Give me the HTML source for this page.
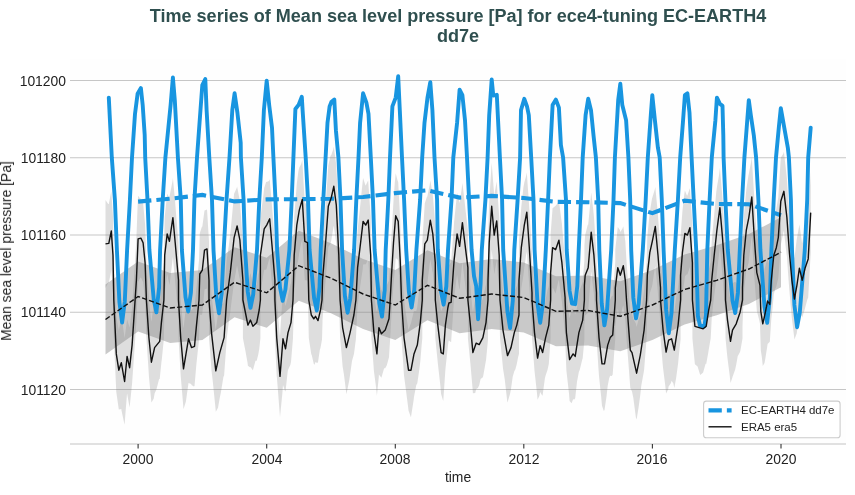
<!DOCTYPE html>
<html><head><meta charset="utf-8"><title>Time series</title>
<style>
html,body{margin:0;padding:0;background:#fff;}
body{width:855px;height:495px;position:relative;overflow:hidden;font-family:"Liberation Sans",sans-serif;color:#222;}
.t{position:absolute;white-space:nowrap;line-height:1;will-change:transform;}
.title{left:0;width:916px;text-align:center;font-weight:bold;font-size:18.06px;color:#2f4f4f;line-height:19.8px;top:6.8px;white-space:normal}
.yl{font-size:13.89px;text-align:right;width:60px;left:5.5px;}
.xl{font-size:13.89px;text-align:center;width:60px;}
.lg{font-size:11.47px;left:741.4px;}
</style></head><body>
<svg width="855" height="495" viewBox="0 0 855 495" style="position:absolute;left:0;top:0">
<rect x="70" y="59" width="776" height="385" fill="#fefefe"/>
<line x1="70" x2="846" y1="80.5" y2="80.5" stroke="#c6c6c6" stroke-width="1.05"/>
<line x1="70" x2="846" y1="157.8" y2="157.8" stroke="#c6c6c6" stroke-width="1.05"/>
<line x1="70" x2="846" y1="235" y2="235" stroke="#c6c6c6" stroke-width="1.05"/>
<line x1="70" x2="846" y1="312.2" y2="312.2" stroke="#c6c6c6" stroke-width="1.05"/>
<line x1="70" x2="846" y1="389.4" y2="389.4" stroke="#c6c6c6" stroke-width="1.05"/>
<path d="M105.5,199.9 L105.5,200.0 L108.2,204.0 L108.8,203.9 L110.9,193.5 L111.3,191.6 L113.0,216.9 L113.5,246.5 L113.8,262.0 L116.2,314.0 L116.3,315.8 L118.8,330.7 L118.9,330.4 L121.3,316.4 L121.6,317.1 L124.3,335.6 L124.6,338.3 L126.9,320.9 L127.1,319.2 L129.6,327.7 L129.6,327.4 L132.1,307.0 L132.3,304.2 L135.0,262.0 L135.1,259.8 L136.4,238.2 L137.6,205.7 L138.1,195.7 L140.3,198.8 L140.9,198.6 L143.0,202.9 L143.1,203.2 L145.1,224.4 L145.7,241.4 L146.4,262.0 L148.4,291.8 L148.9,299.3 L151.0,319.2 L151.4,321.7 L153.7,304.8 L154.6,301.7 L156.4,301.4 L159.1,305.1 L159.7,303.7 L161.4,282.9 L161.8,279.5 L163.9,261.6 L164.4,231.3 L164.7,217.0 L167.1,194.4 L167.2,193.8 L169.4,197.9 L169.8,195.0 L172.5,181.3 L172.9,178.1 L175.2,202.6 L175.2,203.2 L177.8,235.0 L178.5,242.3 L178.5,262.0 L180.5,296.2 L180.7,299.5 L183.2,326.2 L183.5,328.6 L185.9,307.5 L188.5,294.8 L188.5,295.0 L191.2,309.9 L191.5,310.3 L193.9,306.6 L194.5,306.8 L196.5,287.0 L196.6,286.2 L199.0,260.2 L199.3,251.2 L199.8,233.2 L201.9,226.7 L202.3,226.8 L204.5,210.5 L204.6,210.6 L207.0,209.4 L207.3,213.7 L209.0,241.7 L209.0,261.5 L210.0,274.3 L211.5,294.6 L212.7,304.6 L215.3,327.3 L215.8,330.1 L218.0,313.8 L219.8,307.6 L220.7,305.5 L223.4,303.1 L224.1,299.8 L226.1,267.9 L226.6,260.4 L228.7,246.4 L230.3,233.5 L231.4,222.7 L234.1,193.7 L234.1,193.7 L236.8,187.7 L237.1,186.4 L239.4,198.5 L239.9,200.9 L242.1,232.4 L242.9,242.3 L242.9,262.0 L244.8,271.7 L245.4,274.2 L247.5,283.6 L247.9,284.5 L250.2,273.5 L250.4,273.3 L252.8,282.2 L252.9,282.4 L255.5,286.7 L256.7,284.3 L258.2,274.8 L259.2,270.7 L260.4,261.7 L260.4,216.8 L260.9,213.9 L263.6,193.2 L264.2,188.0 L266.2,181.8 L266.7,181.9 L268.9,180.9 L269.7,179.3 L271.6,201.3 L272.2,208.5 L274.3,234.3 L274.9,242.3 L274.9,262.0 L276.7,299.6 L277.0,302.6 L279.6,333.0 L280.0,336.0 L282.3,300.0 L283.0,292.6 L285.0,302.9 L285.5,306.1 L287.7,297.6 L288.0,295.2 L290.4,284.7 L291.0,283.0 L293.0,262.0 L293.0,260.8 L294.2,216.3 L295.7,197.7 L296.8,183.6 L298.4,171.3 L299.3,167.5 L301.1,164.3 L302.3,160.0 L303.7,184.7 L304.8,202.5 L306.4,204.2 L307.5,204.7 L308.8,262.0 L309.1,264.1 L311.3,275.8 L311.8,276.3 L313.8,273.7 L314.5,270.8 L315.5,270.5 L317.1,275.0 L318.0,278.9 L319.8,276.0 L320.5,272.2 L322.0,260.5 L322.5,242.0 L322.5,240.3 L325.2,209.3 L325.6,204.4 L327.9,172.3 L328.3,165.6 L330.5,155.8 L331.3,154.9 L333.2,149.5 L333.8,146.8 L335.9,162.3 L336.3,165.8 L338.6,212.0 L338.8,217.2 L340.1,262.0 L341.3,274.8 L342.6,288.8 L343.9,295.2 L346.4,301.3 L346.6,299.6 L349.3,291.9 L350.1,290.7 L352.0,286.9 L353.9,275.9 L354.6,269.2 L355.9,260.9 L357.3,235.3 L357.6,229.5 L360.0,207.9 L360.6,201.7 L362.7,181.3 L363.1,178.1 L365.4,185.2 L365.7,185.6 L368.0,180.8 L368.2,180.7 L370.7,217.2 L370.7,220.6 L371.4,262.0 L373.4,287.8 L373.9,294.3 L376.1,308.4 L376.9,312.0 L378.8,282.9 L378.9,280.8 L381.4,289.8 L381.4,289.8 L384.1,294.2 L385.2,291.9 L386.8,285.3 L389.0,280.4 L389.5,273.1 L390.2,261.4 L391.5,235.8 L392.2,224.1 L393.5,200.7 L394.8,182.5 L395.7,173.3 L397.5,180.3 L398.2,181.9 L400.2,219.8 L400.2,220.7 L401.5,261.2 L402.9,282.7 L404.0,299.6 L405.5,310.8 L408.2,328.6 L408.5,329.9 L410.9,323.2 L411.0,323.3 L413.6,312.3 L414.0,311.0 L416.3,310.9 L417.3,307.0 L418.9,292.6 L420.3,283.6 L421.6,269.6 L422.3,261.5 L422.3,241.7 L424.3,211.1 L424.8,203.2 L427.0,196.6 L427.3,196.7 L429.7,185.0 L430.3,180.6 L432.3,191.7 L432.8,194.7 L435.0,221.2 L435.3,224.7 L435.3,262.0 L437.7,285.7 L437.8,287.0 L440.4,307.1 L441.1,311.1 L443.1,306.7 L443.3,307.2 L445.4,280.6 L445.7,278.4 L447.9,269.1 L448.4,268.0 L448.9,265.5 L451.1,262.3 L451.1,262.3 L453.8,227.1 L454.1,221.9 L456.4,199.8 L457.1,192.9 L459.1,199.9 L459.6,203.3 L461.8,188.2 L462.4,183.1 L464.5,200.5 L465.4,208.7 L467.2,223.8 L467.9,229.7 L467.9,262.0 L469.8,281.4 L470.4,286.7 L472.5,308.8 L472.9,312.0 L475.2,299.0 L476.2,297.2 L477.9,300.0 L479.2,304.0 L480.6,305.0 L482.9,297.9 L483.2,296.1 L485.9,284.7 L486.0,284.5 L488.0,260.5 L488.0,240.7 L488.6,221.1 L489.2,201.7 L491.3,168.7 L491.7,163.1 L494.0,192.6 L494.2,195.6 L496.6,181.9 L496.7,181.4 L499.2,217.1 L499.3,221.8 L500.0,262.0 L502.0,282.0 L503.0,291.5 L504.7,300.1 L507.3,307.8 L507.5,308.8 L510.0,305.9 L511.0,306.2 L512.7,302.8 L514.3,293.8 L515.4,289.2 L516.8,286.1 L518.1,281.3 L519.0,276.3 L519.0,241.5 L520.7,215.3 L521.3,206.9 L523.4,187.5 L524.3,182.5 L526.1,176.1 L526.8,172.6 L528.8,201.0 L529.3,208.5 L531.5,245.3 L532.0,254.8 L532.0,262.0 L534.1,289.3 L534.5,294.4 L536.8,312.4 L537.6,316.6 L539.5,301.4 L540.1,299.2 L542.2,307.5 L542.6,309.7 L544.9,304.2 L545.6,299.8 L547.5,290.1 L548.8,286.0 L550.2,267.4 L550.6,261.7 L550.6,234.5 L552.6,207.9 L552.9,207.9 L555.6,205.7 L555.6,205.7 L558.3,202.4 L558.9,200.7 L560.9,216.2 L561.9,223.7 L563.6,243.5 L565.1,259.8 L565.1,262.0 L566.3,292.2 L566.4,294.5 L569.0,314.6 L569.6,318.3 L571.6,309.3 L573.1,308.6 L574.3,311.4 L575.2,314.5 L577.0,307.7 L578.9,293.4 L579.7,290.0 L582.4,283.1 L582.7,281.8 L584.4,260.5 L584.4,245.7 L585.0,237.0 L585.2,235.0 L587.7,224.9 L588.2,224.5 L590.4,202.0 L591.2,192.6 L593.1,208.4 L593.9,216.2 L595.8,244.3 L596.5,254.8 L596.5,262.0 L598.4,291.7 L599.0,299.3 L601.1,316.9 L602.0,322.0 L603.8,316.9 L604.5,317.7 L606.5,308.4 L607.7,304.4 L609.2,303.9 L610.2,299.4 L611.8,296.0 L612.7,295.8 L614.5,272.4 L615.3,261.4 L615.3,249.2 L617.2,232.3 L617.8,226.9 L619.9,230.1 L620.3,231.9 L622.5,228.5 L623.3,226.2 L625.2,240.4 L625.3,240.8 L626.5,261.2 L627.9,280.3 L630.3,312.1 L630.6,312.5 L632.0,313.8 L633.3,318.7 L635.9,323.4 L636.6,326.9 L638.6,319.3 L640.3,315.6 L641.3,311.6 L644.0,290.7 L644.1,290.1 L646.6,261.9 L646.7,259.2 L647.3,236.8 L649.3,216.6 L649.8,212.0 L652.0,198.6 L652.3,197.8 L654.7,189.8 L655.3,186.9 L657.4,208.7 L658.0,216.1 L660.1,243.3 L660.5,249.8 L660.5,262.0 L662.7,288.2 L663.1,291.9 L665.4,307.8 L666.1,310.8 L668.1,295.4 L668.6,293.6 L670.8,295.2 L671.6,297.0 L673.4,309.5 L674.3,312.1 L676.1,298.2 L678.1,286.5 L678.8,279.9 L680.6,260.7 L680.6,235.9 L681.5,223.8 L682.4,211.4 L684.2,194.7 L684.9,190.6 L686.8,195.3 L687.4,195.6 L689.5,189.2 L689.9,188.3 L692.2,222.2 L692.4,224.7 L692.4,262.0 L694.9,288.3 L694.9,288.3 L697.6,287.6 L699.1,283.6 L700.2,280.9 L702.9,284.7 L703.2,285.4 L705.6,289.8 L706.2,288.7 L708.3,272.6 L708.7,270.3 L710.7,261.8 L711.0,256.5 L711.7,241.7 L713.6,220.7 L714.2,214.4 L716.3,191.8 L716.9,187.2 L719.0,175.2 L719.9,168.1 L721.7,188.7 L722.5,198.6 L724.3,226.5 L725.5,242.3 L725.5,262.0 L727.0,277.7 L727.5,281.8 L729.7,296.4 L730.5,299.7 L732.4,283.6 L732.5,283.2 L735.1,281.8 L736.2,282.9 L737.7,282.3 L740.0,273.0 L740.4,270.4 L742.5,261.6 L742.5,249.3 L743.1,234.2 L743.8,216.7 L745.8,194.9 L746.3,189.4 L748.5,175.1 L748.8,174.1 L751.1,161.9 L751.8,157.5 L753.8,190.6 L754.3,198.4 L756.5,230.6 L756.8,234.7 L759.2,243.9 L760.0,246.8 L760.8,272.4 L761.9,278.4 L762.8,281.7 L764.5,269.0 L765.3,266.4 L767.2,258.8 L767.6,257.9 L769.8,267.3 L769.9,266.4 L771.3,241.6 L772.6,227.8 L773.8,216.1 L775.2,212.9 L776.3,208.9 L777.9,199.7 L778.3,197.0 L780.6,160.8 L780.8,157.7 L783.3,153.7 L783.9,151.8 L786.0,170.2 L786.9,178.6 L788.6,204.5 L789.4,214.7 L791.3,236.2 L791.9,241.9 L794.0,256.7 L794.4,258.5 L796.7,239.4 L796.9,238.5 L799.4,224.5 L799.4,224.3 L802.0,242.8 L802.2,243.1 L804.7,229.6 L805.2,228.0 L807.4,223.2 L808.2,220.4 L810.1,183.6 L810.7,171.7 L810.7,253.5 L810.1,263.6 L808.2,297.5 L807.4,299.2 L805.2,307.4 L804.7,309.6 L802.2,317.4 L802.0,316.8 L799.4,312.1 L799.4,312.5 L796.9,332.0 L796.7,333.4 L794.4,339.6 L794.0,335.7 L791.9,318.6 L791.3,312.2 L789.4,290.7 L788.6,280.5 L786.9,256.6 L786.0,249.2 L783.9,230.8 L783.3,232.7 L780.8,244.9 L780.6,248.8 L778.3,278.3 L777.9,279.7 L776.3,286.5 L775.2,288.9 L773.8,294.2 L772.6,307.8 L771.3,318.9 L769.9,340.4 L769.8,341.7 L767.6,344.1 L767.2,346.8 L765.3,358.7 L764.5,363.0 L762.8,366.0 L761.9,357.4 L760.8,350.2 L760.0,323.8 L759.2,319.9 L756.8,310.7 L756.5,306.6 L754.3,276.9 L753.8,269.6 L751.8,236.5 L751.1,240.9 L748.8,261.1 L748.5,263.1 L746.3,270.8 L745.8,274.9 L743.8,293.7 L743.1,310.2 L742.5,326.2 L742.5,338.4 L740.4,350.4 L740.0,352.1 L737.7,356.3 L736.2,364.7 L735.1,369.8 L732.5,377.0 L732.4,377.6 L730.5,383.0 L729.7,375.4 L727.5,358.3 L727.0,353.7 L725.5,338.0 L725.5,318.3 L724.3,302.5 L722.5,276.7 L721.7,267.7 L719.9,247.1 L719.0,254.2 L716.9,273.1 L716.3,279.8 L714.2,296.0 L713.6,300.7 L711.7,318.8 L711.0,332.5 L710.7,338.2 L708.7,349.7 L708.3,352.6 L706.2,364.0 L705.6,363.8 L703.2,372.2 L702.9,372.7 L700.2,374.9 L699.1,371.5 L697.6,366.6 L694.9,364.3 L694.9,364.3 L692.4,338.0 L692.4,300.7 L692.2,298.2 L689.9,266.9 L689.5,268.2 L687.4,274.6 L686.8,274.3 L684.9,276.2 L684.2,282.7 L682.4,294.0 L681.5,303.8 L680.6,314.6 L680.6,339.3 L678.8,355.9 L678.1,363.6 L676.1,378.2 L674.3,388.1 L673.4,383.5 L671.6,380.7 L670.8,383.2 L668.6,386.6 L668.1,389.4 L666.1,393.5 L665.4,386.8 L663.1,368.3 L662.7,364.2 L660.5,338.0 L660.5,325.8 L660.1,319.3 L658.0,294.3 L657.4,287.7 L655.3,265.9 L654.7,268.8 L652.3,285.0 L652.0,286.6 L649.8,293.3 L649.3,296.6 L647.3,313.7 L646.7,335.2 L646.6,338.1 L644.1,370.0 L644.0,370.7 L641.3,385.6 L640.3,394.7 L638.6,407.3 L636.6,419.5 L635.9,417.4 L633.3,397.7 L632.0,391.4 L630.6,388.5 L630.3,388.1 L627.9,356.3 L626.5,338.8 L625.3,319.7 L625.2,319.4 L623.3,305.2 L622.5,307.5 L620.3,318.6 L619.9,318.1 L617.8,308.6 L617.2,312.3 L615.3,326.3 L615.3,338.6 L614.5,348.4 L612.7,374.4 L611.8,376.0 L610.2,375.8 L609.2,377.9 L607.7,385.8 L606.5,396.4 L604.5,410.1 L603.8,410.9 L602.0,405.8 L601.1,395.9 L599.0,375.9 L598.4,367.7 L596.5,338.0 L596.5,330.8 L595.8,320.3 L593.9,294.2 L593.1,287.4 L591.2,271.6 L590.4,281.0 L588.2,310.9 L587.7,312.9 L585.2,315.4 L585.0,317.0 L584.4,324.8 L584.4,339.5 L582.7,358.3 L582.4,359.1 L579.7,370.0 L578.9,371.7 L577.0,381.7 L575.2,398.2 L574.3,399.4 L573.1,399.2 L571.6,403.3 L569.6,401.0 L569.0,393.6 L566.4,370.6 L566.3,368.2 L565.1,338.0 L565.1,335.8 L563.6,319.5 L561.9,301.7 L560.9,295.2 L558.9,279.7 L558.3,281.4 L555.6,293.6 L555.6,293.7 L552.9,287.9 L552.6,287.4 L550.6,311.0 L550.6,338.3 L550.2,343.4 L548.8,364.1 L547.5,370.1 L545.6,375.4 L544.9,378.2 L542.6,395.6 L542.2,395.5 L540.1,392.0 L539.5,395.4 L537.6,399.7 L536.8,391.4 L534.5,370.8 L534.1,365.3 L532.0,338.0 L532.0,330.8 L531.5,321.3 L529.3,286.9 L528.8,280.0 L526.8,251.6 L526.1,255.1 L524.3,267.7 L523.4,275.5 L521.3,288.4 L520.7,295.3 L519.0,319.0 L519.0,353.8 L518.1,357.3 L516.8,364.0 L515.4,369.2 L514.3,371.3 L512.7,376.8 L511.0,389.0 L510.0,393.9 L507.5,402.5 L507.3,401.8 L504.7,379.1 L503.0,368.6 L502.0,358.0 L500.0,338.0 L499.3,297.8 L499.2,293.2 L496.7,260.3 L496.6,260.9 L494.2,274.6 L494.0,271.6 L491.7,249.6 L491.3,256.7 L489.2,283.6 L488.6,301.1 L488.0,319.8 L488.0,339.5 L486.0,360.6 L485.9,360.7 L483.2,376.1 L482.9,377.3 L480.6,379.0 L479.2,385.2 L477.9,388.0 L476.2,389.0 L475.2,393.0 L472.9,393.2 L472.5,387.8 L470.4,363.4 L469.8,357.4 L467.9,338.0 L467.9,305.7 L467.2,299.8 L465.4,286.7 L464.5,279.5 L462.4,262.1 L461.8,267.2 L459.6,289.6 L459.1,287.9 L457.1,274.9 L456.4,279.8 L454.1,298.5 L453.8,303.1 L451.1,342.2 L451.1,342.3 L448.9,340.5 L448.4,342.0 L447.9,346.0 L445.7,366.4 L445.4,369.5 L443.3,400.6 L443.1,400.7 L441.1,394.1 L440.4,386.1 L437.8,363.1 L437.7,361.7 L435.3,338.0 L435.3,300.7 L435.0,297.2 L432.8,273.1 L432.3,270.7 L430.3,259.6 L429.7,264.0 L427.3,283.6 L427.0,284.6 L424.8,284.7 L424.3,291.1 L422.3,318.8 L422.3,338.5 L421.6,345.6 L420.3,361.6 L418.9,372.6 L417.3,383.3 L416.3,384.9 L414.0,396.7 L413.6,400.3 L411.0,417.1 L410.9,417.2 L408.5,410.5 L408.2,407.6 L405.5,386.8 L404.0,375.6 L402.9,358.7 L401.5,338.8 L400.2,299.7 L400.2,298.8 L398.2,260.9 L397.5,259.3 L395.7,258.3 L394.8,270.5 L393.5,284.6 L392.2,304.1 L391.5,314.7 L390.2,338.6 L389.5,349.1 L389.0,357.2 L386.8,365.3 L385.2,368.3 L384.1,368.2 L381.4,377.8 L381.4,377.8 L378.9,374.4 L378.8,376.9 L376.9,395.8 L376.1,387.4 L373.9,370.9 L373.4,363.8 L371.4,338.0 L370.7,296.6 L370.7,293.2 L368.2,259.5 L368.0,259.8 L365.7,264.6 L365.4,264.2 L363.1,264.6 L362.7,269.3 L360.6,283.6 L360.0,287.9 L357.6,305.9 L357.3,311.3 L355.9,339.1 L354.6,349.2 L353.9,354.2 L352.0,360.9 L350.1,374.4 L349.3,379.9 L346.6,393.6 L346.4,393.9 L343.9,374.2 L342.6,366.3 L341.3,350.8 L340.1,338.0 L338.8,293.2 L338.6,288.0 L336.3,244.3 L335.9,241.3 L333.8,225.8 L333.2,228.5 L331.3,240.2 L330.5,243.8 L328.3,247.0 L327.9,252.3 L325.6,280.9 L325.2,285.3 L322.5,320.2 L322.5,322.0 L322.0,339.5 L320.5,347.8 L319.8,350.0 L318.0,362.2 L317.1,363.0 L315.5,362.1 L314.5,364.8 L313.8,363.9 L311.8,355.3 L311.3,354.2 L309.1,340.1 L308.8,338.0 L307.5,280.7 L306.4,280.2 L304.8,280.3 L303.7,263.7 L302.3,239.0 L301.1,243.3 L299.3,252.6 L298.4,259.3 L296.8,266.7 L295.7,277.7 L294.2,294.1 L293.0,336.8 L293.0,338.0 L291.0,362.1 L290.4,364.7 L288.0,369.9 L287.7,371.6 L285.5,391.6 L285.0,390.9 L283.0,385.1 L282.3,394.0 L280.0,416.9 L279.6,412.0 L277.0,378.6 L276.7,375.6 L274.9,338.0 L274.9,318.3 L274.3,310.3 L272.2,286.8 L271.6,280.3 L269.7,258.3 L268.9,259.9 L266.7,268.4 L266.2,269.8 L264.2,269.8 L263.6,273.2 L260.9,289.9 L260.4,293.5 L260.4,338.3 L259.2,349.3 L258.2,354.8 L256.7,360.8 L255.5,360.7 L252.9,370.2 L252.8,370.2 L250.4,366.8 L250.2,367.5 L247.9,365.7 L247.5,362.6 L245.4,350.8 L244.8,347.7 L242.9,338.0 L242.9,318.3 L242.1,308.4 L239.9,279.4 L239.4,277.5 L237.1,265.4 L236.8,266.7 L234.1,281.6 L234.1,281.7 L231.4,302.7 L230.3,311.9 L228.7,322.4 L226.6,339.6 L226.1,347.9 L224.1,375.4 L223.4,377.1 L220.7,393.5 L219.8,397.6 L218.0,407.8 L215.8,411.7 L215.3,406.3 L212.7,380.6 L211.5,370.6 L210.0,350.3 L209.0,338.5 L209.0,318.8 L207.3,292.7 L207.0,288.4 L204.6,289.6 L204.5,289.8 L202.3,313.7 L201.9,314.7 L199.8,314.7 L199.3,331.2 L199.0,339.8 L196.6,362.2 L196.5,363.1 L194.5,385.9 L193.9,386.6 L191.5,384.9 L191.2,383.9 L188.5,383.0 L188.5,382.9 L185.9,401.5 L183.5,409.2 L183.2,405.2 L180.7,375.7 L180.5,372.2 L178.5,338.0 L178.5,318.3 L177.8,311.0 L175.2,282.1 L175.2,281.6 L172.9,257.1 L172.5,260.3 L169.8,283.0 L169.4,284.9 L167.2,274.0 L167.1,274.4 L164.7,293.4 L164.4,307.3 L163.9,338.4 L161.8,359.5 L161.4,362.2 L159.7,379.0 L159.1,379.1 L156.4,389.4 L154.6,393.6 L153.7,398.8 L151.4,402.6 L151.0,398.2 L148.9,375.9 L148.4,367.8 L146.4,338.0 L145.7,317.4 L145.1,301.0 L143.1,282.1 L143.0,281.9 L140.9,277.6 L140.3,277.8 L138.1,282.1 L137.6,293.7 L136.4,322.3 L135.1,340.2 L135.0,342.0 L132.3,380.2 L132.1,383.3 L129.6,407.4 L129.6,407.6 L127.1,393.6 L126.9,394.9 L124.6,424.6 L124.3,423.6 L121.6,411.1 L121.3,408.9 L118.9,409.4 L118.8,409.6 L116.3,391.9 L116.2,390.0 L113.8,338.0 L113.5,322.5 L113.0,293.5 L111.3,270.1 L110.9,272.5 L108.8,282.9 L108.2,283.0 L105.5,287.9 L105.5,287.9Z" fill="#808080" fill-opacity="0.25"/>
<path d="M105.5,284.5 L138.1,261.5 L170.2,273.0 L202.4,270.0 L234.5,247.3 L266.7,257.8 L298.8,230.7 L331.0,243.2 L363.1,259.0 L395.3,270.0 L427.4,250.3 L459.6,263.3 L491.7,259.0 L523.8,262.5 L556.0,276.3 L588.1,275.5 L620.3,281.3 L652.4,270.0 L684.6,254.5 L716.7,245.3 L748.9,234.0 L781.0,217.2 L781.0,287.2 L748.9,304.0 L716.7,315.3 L684.6,324.5 L652.4,340.0 L620.3,351.3 L588.1,345.5 L556.0,346.3 L523.8,332.5 L491.7,329.0 L459.6,333.3 L427.4,320.3 L395.3,340.0 L363.1,329.0 L331.0,313.2 L298.8,300.7 L266.7,327.8 L234.5,317.3 L202.4,340.0 L170.2,343.0 L138.1,331.5 L105.5,354.5Z" fill="#808080" fill-opacity="0.42"/>
<path d="M108.8,97.6 L111.8,157.5 L114.9,200.0 L116.9,250.0 L119.4,302.0 L122.1,322.6 L124.8,301.2 L127.1,250.0 L129.9,200.0 L132.0,157.5 L135.0,113.9 L137.6,93.8 L140.9,88.1 L142.7,105.1 L144.7,135.2 L145.2,157.5 L147.5,200.0 L149.4,250.0 L153.7,299.2 L156.4,312.3 L159.1,287.5 L160.1,250.0 L162.7,200.0 L165.4,157.5 L170.6,105.1 L172.9,77.5 L174.8,100.1 L177.9,157.5 L180.8,200.0 L181.9,250.0 L185.5,297.1 L188.2,311.5 L190.9,292.6 L193.0,250.0 L194.4,200.0 L197.0,157.5 L202.3,85.1 L205.3,79.0 L206.6,110.1 L209.3,157.5 L212.0,200.0 L213.5,250.0 L216.3,296.3 L219.0,313.3 L221.7,293.4 L223.7,250.0 L226.5,200.0 L229.5,157.5 L232.3,110.1 L234.6,93.3 L237.4,112.6 L240.7,142.7 L240.9,157.5 L243.6,200.0 L245.1,250.0 L247.8,292.0 L250.5,307.8 L253.2,294.7 L257.0,250.0 L259.3,200.0 L261.8,157.5 L263.9,110.1 L266.7,80.6 L269.2,105.1 L272.0,127.7 L273.4,157.5 L275.5,200.0 L277.1,250.0 L280.0,287.4 L282.7,300.8 L285.4,289.6 L289.4,250.0 L291.7,200.0 L293.4,157.5 L295.4,108.9 L298.5,105.1 L301.8,96.8 L302.6,110.1 L305.7,157.5 L308.0,200.0 L309.6,250.0 L314.1,298.1 L316.8,310.5 L319.5,287.6 L320.7,250.0 L323.3,200.0 L325.6,157.5 L327.5,122.7 L329.6,106.4 L331.3,102.1 L334.3,99.6 L335.9,130.2 L338.4,157.5 L340.5,200.0 L342.1,250.0 L344.9,295.9 L347.6,312.7 L350.3,298.5 L354.1,250.0 L356.3,200.0 L358.5,157.5 L360.1,122.7 L363.1,93.3 L366.4,102.6 L368.5,113.9 L370.8,157.5 L373.0,200.0 L374.6,250.0 L379.3,303.3 L382.0,316.6 L384.7,290.1 L385.7,250.0 L388.3,200.0 L390.0,157.5 L392.4,106.4 L395.7,97.6 L398.2,76.3 L399.8,110.1 L402.0,157.5 L404.1,200.0 L406.2,250.0 L408.9,291.8 L411.6,307.5 L414.3,289.8 L416.4,250.0 L420.1,200.0 L422.2,157.5 L424.5,122.7 L427.5,97.6 L430.3,82.1 L432.4,110.1 L434.5,157.5 L437.1,200.0 L437.8,250.0 L440.9,290.8 L443.6,304.7 L446.3,286.4 L448.0,250.0 L451.5,200.0 L453.3,157.5 L457.1,122.7 L459.6,89.6 L462.4,95.1 L465.0,120.2 L467.0,157.5 L469.1,200.0 L471.6,250.0 L474.0,276.0 L476.2,286.0 L478.1,319.2 L480.6,284.0 L481.8,250.0 L485.4,200.0 L487.6,157.5 L489.2,115.1 L491.7,79.5 L493.3,95.6 L496.8,94.8 L498.8,135.2 L499.9,157.5 L502.1,200.0 L503.2,250.0 L507.4,311.3 L510.1,328.0 L512.8,300.6 L514.3,250.0 L517.6,200.0 L520.1,157.5 L521.0,110.1 L524.3,98.8 L527.0,106.4 L528.8,115.1 L531.2,157.5 L533.5,200.0 L534.6,250.0 L537.5,303.6 L540.2,322.8 L542.9,303.6 L545.8,250.0 L548.1,200.0 L549.9,157.5 L552.6,105.1 L555.9,99.6 L558.9,107.6 L560.9,145.2 L563.1,157.5 L566.0,200.0 L566.7,250.0 L569.6,291.0 L572.0,303.6 L575.2,304.2 L577.3,286.0 L578.7,250.0 L581.0,200.0 L582.7,157.5 L585.6,115.1 L588.2,98.8 L591.0,110.1 L593.5,135.2 L595.9,157.5 L598.2,200.0 L599.3,250.0 L601.7,303.6 L604.4,325.4 L607.1,309.1 L611.2,250.0 L613.5,200.0 L614.9,157.5 L618.2,100.1 L620.3,83.8 L622.3,105.1 L626.1,120.2 L628.4,157.5 L630.2,200.0 L631.2,250.0 L633.3,297.4 L636.0,318.4 L638.7,303.6 L642.8,250.0 L645.7,200.0 L647.8,157.5 L650.8,115.1 L652.3,95.1 L654.9,120.2 L657.9,147.7 L659.7,157.5 L661.8,200.0 L663.6,250.0 L666.1,309.7 L668.8,333.3 L671.5,312.8 L674.8,250.0 L677.9,200.0 L680.2,157.5 L682.9,122.7 L684.9,95.1 L687.4,93.3 L689.5,112.6 L691.6,157.5 L693.7,200.0 L696.2,250.0 L697.9,316.0 L700.0,325.5 L704.4,326.3 L706.0,315.0 L707.3,250.0 L709.6,200.0 L711.8,157.5 L715.4,120.2 L716.9,97.6 L719.9,103.9 L722.5,105.9 L723.3,135.2 L723.6,157.5 L725.4,200.0 L727.8,250.0 L732.5,300.5 L735.2,313.1 L737.9,292.9 L739.8,250.0 L742.1,200.0 L744.4,157.5 L746.7,127.7 L748.8,100.1 L750.8,115.1 L753.8,135.2 L756.1,157.5 L758.4,200.0 L760.4,250.0 L764.5,307.0 L767.2,322.8 L769.9,297.3 L771.4,250.0 L773.7,200.0 L776.0,157.5 L778.8,127.7 L780.8,108.1 L787.9,148.2 L788.9,157.5 L790.9,200.0 L792.0,250.0 L794.4,304.9 L797.1,327.2 L799.8,312.4 L804.8,250.0 L807.2,200.0 L808.2,157.5 L810.7,127.7" fill="none" stroke="#1895e0" stroke-width="3.9" stroke-linejoin="round" stroke-linecap="round"/>
<path d="M138.1,201.6 L170.2,198.7 L202.4,194.9 L234.5,201.4 L266.7,199.4 L298.8,199.2 L331.0,198.8 L363.1,197.0 L395.3,193.1 L427.4,190.3 L459.6,197.6 L491.7,195.9 L523.8,198.0 L556.0,201.9 L588.1,202.2 L620.3,203.1 L652.4,213.2 L684.6,200.7 L716.7,204.0 L748.9,204.2 L781.0,215.3" fill="none" stroke="#1895e0" stroke-width="4.1" stroke-dasharray="13.3,5.06"/>
<path d="M105.5,243.9 L108.8,243.4 L111.3,230.9 L113.0,255.2 L113.8,300.0 L116.3,353.9 L118.8,370.2 L121.3,362.7 L124.6,381.5 L127.1,356.4 L129.6,367.7 L132.1,345.1 L135.1,300.0 L136.4,280.3 L138.1,238.9 L140.9,238.1 L143.1,242.7 L145.1,262.7 L146.4,300.0 L148.9,337.6 L151.4,362.2 L154.6,347.6 L159.7,341.4 L161.4,322.6 L163.9,300.0 L164.7,255.2 L167.2,233.9 L169.4,241.4 L172.9,217.6 L175.2,242.7 L178.5,280.3 L178.5,300.0 L180.7,337.6 L183.5,368.9 L188.5,338.8 L191.5,347.6 L194.5,346.4 L196.5,325.1 L199.0,300.0 L199.8,274.0 L202.3,270.2 L204.5,250.2 L207.0,248.9 L209.0,280.3 L209.0,300.0 L211.5,332.6 L215.8,370.9 L219.8,352.6 L224.1,337.6 L226.6,300.0 L230.3,272.7 L234.1,237.6 L237.1,225.9 L239.9,240.2 L242.9,280.3 L242.9,300.0 L245.4,312.5 L247.9,325.1 L250.4,320.1 L252.9,326.3 L256.7,322.6 L259.2,310.0 L260.4,300.0 L260.4,255.2 L264.2,228.9 L266.7,225.1 L269.7,218.8 L272.2,247.7 L274.9,280.3 L274.9,300.0 L276.7,337.6 L280.0,376.4 L283.0,338.8 L285.5,348.9 L288.0,332.6 L291.0,322.6 L293.0,300.0 L294.2,255.2 L296.8,225.1 L299.3,210.1 L302.3,199.5 L304.8,241.4 L307.5,242.7 L308.8,300.0 L311.3,315.0 L313.8,318.8 L315.5,316.3 L318.0,320.6 L320.5,310.0 L322.0,300.0 L322.5,280.3 L325.6,242.7 L328.3,206.3 L331.3,197.5 L333.8,186.3 L336.3,205.1 L338.8,255.2 L340.1,300.0 L342.6,327.6 L346.4,347.6 L350.1,332.6 L353.9,315.0 L355.9,300.0 L357.6,267.7 L360.6,242.7 L363.1,221.4 L365.7,225.1 L368.2,220.1 L370.7,255.2 L371.4,300.0 L373.9,332.6 L376.9,353.9 L378.9,327.6 L381.4,333.8 L385.2,330.1 L389.0,318.8 L390.2,300.0 L391.5,275.2 L393.5,242.7 L395.7,215.8 L398.2,221.4 L400.2,260.2 L401.5,300.0 L404.0,337.6 L408.5,370.2 L411.0,370.2 L414.0,353.9 L417.3,345.1 L420.3,322.6 L422.3,300.0 L422.3,280.3 L424.8,243.9 L427.3,240.2 L430.3,220.1 L432.8,233.9 L435.3,262.7 L435.3,300.0 L437.8,325.1 L441.1,352.6 L443.3,353.9 L445.4,325.1 L447.9,307.5 L448.9,303.0 L451.1,302.3 L454.1,260.2 L457.1,233.9 L459.6,246.4 L462.4,222.6 L465.4,247.7 L467.9,267.7 L467.9,300.0 L470.4,325.1 L472.9,352.6 L476.2,343.1 L479.2,344.6 L482.9,337.6 L486.0,322.6 L488.0,300.0 L488.0,280.3 L489.2,242.7 L491.7,206.3 L494.2,235.1 L496.7,220.9 L499.2,255.2 L500.0,300.0 L503.0,330.1 L507.5,355.6 L511.0,347.6 L514.3,332.6 L516.8,325.1 L519.0,315.0 L519.0,280.3 L521.3,247.7 L524.3,225.1 L526.8,212.1 L529.3,247.7 L532.0,292.8 L532.0,300.0 L534.5,332.6 L537.6,358.1 L540.1,345.6 L542.6,352.6 L545.6,337.6 L548.8,325.1 L550.6,300.0 L550.6,272.7 L552.6,247.7 L555.6,249.7 L558.9,240.2 L561.9,262.7 L565.1,297.8 L565.1,300.0 L566.4,332.6 L569.6,359.6 L573.1,353.9 L575.2,356.4 L578.9,332.6 L582.7,320.1 L584.4,300.0 L584.4,285.3 L585.2,275.2 L588.2,267.7 L591.2,232.1 L593.9,255.2 L596.5,292.8 L596.5,300.0 L599.0,337.6 L602.0,363.9 L604.5,363.9 L607.7,345.1 L610.2,337.6 L612.7,335.1 L615.3,300.0 L615.3,287.8 L617.8,267.7 L620.3,275.2 L623.3,265.7 L625.3,280.3 L626.5,300.0 L630.3,350.1 L632.0,352.6 L636.6,373.2 L640.3,355.1 L644.1,330.1 L646.6,300.0 L647.3,275.2 L649.8,252.7 L652.3,241.4 L655.3,226.4 L658.0,255.2 L660.5,287.8 L660.5,300.0 L663.1,330.1 L666.1,352.1 L668.6,340.1 L671.6,338.8 L674.3,350.1 L678.1,325.1 L680.6,300.0 L680.6,275.2 L682.4,252.7 L684.9,233.4 L687.4,235.1 L689.9,227.6 L692.4,262.7 L692.4,300.0 L694.9,326.3 L699.1,327.6 L703.2,328.8 L706.2,326.3 L708.7,310.0 L710.7,300.0 L711.7,280.3 L714.2,255.2 L716.9,230.1 L719.9,207.6 L722.5,237.6 L725.5,280.3 L725.5,300.0 L727.5,320.1 L730.5,341.4 L732.5,330.1 L736.2,323.8 L740.0,312.5 L742.5,300.0 L742.5,287.8 L743.8,255.2 L746.3,230.1 L748.8,217.6 L751.8,197.0 L754.3,237.6 L756.8,272.7 L760.0,285.3 L760.8,311.3 L762.8,323.8 L765.3,312.5 L767.6,301.0 L769.8,304.5 L771.3,280.3 L773.8,255.2 L776.3,247.7 L778.3,237.6 L780.8,201.3 L783.9,191.3 L786.9,217.6 L789.4,252.7 L791.9,280.3 L794.4,299.0 L796.9,285.3 L799.4,268.2 L802.2,280.3 L805.2,267.7 L808.2,258.9 L810.7,212.6" fill="none" stroke="#111" stroke-width="1.4" stroke-linejoin="round"/>
<path d="M105.5,319.5 L138.1,296.5 L170.2,308.0 L202.4,305.0 L234.5,282.3 L266.7,292.8 L298.8,265.7 L331.0,278.2 L363.1,294.0 L395.3,305.0 L427.4,285.3 L459.6,298.3 L491.7,294.0 L523.8,297.5 L556.0,311.3 L588.1,310.5 L620.3,316.3 L652.4,305.0 L684.6,289.5 L716.7,280.3 L748.9,269.0 L781.0,252.2" fill="none" stroke="#111" stroke-width="1.4" stroke-dasharray="5.14,2.22"/>
<line x1="70" x2="846" y1="444" y2="444" stroke="#c4c4c4" stroke-width="1.15"/>
<line x1="138.1" x2="138.1" y1="444" y2="448.5" stroke="#333" stroke-width="1.1"/>
<line x1="266.7" x2="266.7" y1="444" y2="448.5" stroke="#333" stroke-width="1.1"/>
<line x1="395.3" x2="395.3" y1="444" y2="448.5" stroke="#333" stroke-width="1.1"/>
<line x1="523.8" x2="523.8" y1="444" y2="448.5" stroke="#333" stroke-width="1.1"/>
<line x1="652.4" x2="652.4" y1="444" y2="448.5" stroke="#333" stroke-width="1.1"/>
<line x1="781.0" x2="781.0" y1="444" y2="448.5" stroke="#333" stroke-width="1.1"/>
<rect x="703.6" y="401.1" width="136.5" height="36.7" rx="2.8" ry="2.8" fill="#fff" fill-opacity="0.8" stroke="#ccc" stroke-width="1.1"/>
<line x1="708.5" x2="731.6" y1="410.4" y2="410.4" stroke="#1895e0" stroke-width="4.1" stroke-dasharray="13.3,5.06"/>
<line x1="708.5" x2="731.6" y1="426.8" y2="426.8" stroke="#111" stroke-width="1.4"/>
</svg>
<div class="t title">Time series of Mean sea level pressure [Pa] for ece4-tuning EC-EARTH4<br>dd7e</div>
<div class="t yl" style="top:74.6px">101200</div>
<div class="t yl" style="top:151.9px">101180</div>
<div class="t yl" style="top:229.1px">101160</div>
<div class="t yl" style="top:306.3px">101140</div>
<div class="t yl" style="top:383.5px">101120</div>
<div class="t xl" style="left:108.1px;top:453.2px">2000</div>
<div class="t xl" style="left:236.7px;top:453.2px">2004</div>
<div class="t xl" style="left:365.3px;top:453.2px">2008</div>
<div class="t xl" style="left:493.8px;top:453.2px">2012</div>
<div class="t xl" style="left:622.4px;top:453.2px">2016</div>
<div class="t xl" style="left:751.0px;top:453.2px">2020</div>
<div class="t xl" style="left:428px;top:470.5px">time</div>
<div class="t" style="font-size:13.89px;left:7.1px;top:251px;transform:translate(-50%,-50%) rotate(-90deg);">Mean sea level pressure [Pa]</div>
<div class="t lg" style="top:405.1px">EC-EARTH4 dd7e</div>
<div class="t lg" style="top:421.6px">ERA5 era5</div>
</body></html>
